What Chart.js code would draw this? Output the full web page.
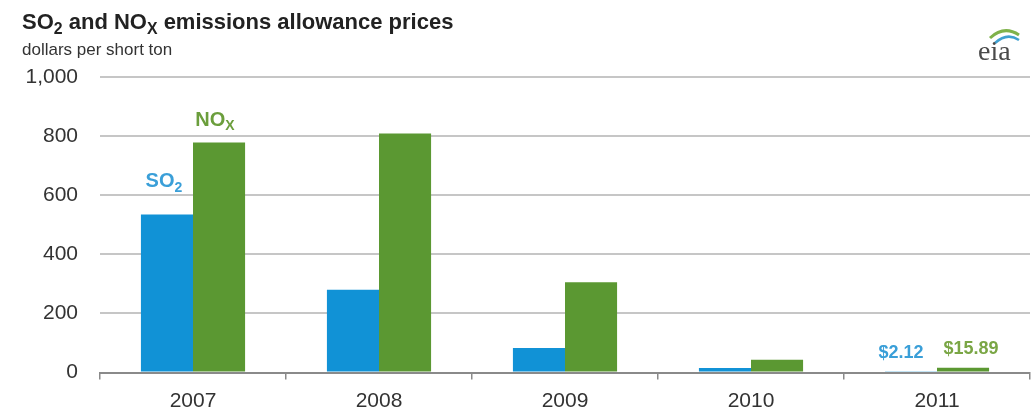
<!DOCTYPE html>
<html><head><meta charset="utf-8">
<script src="https://cdn.jsdelivr.net/npm/chart.js@4.4.1/dist/chart.umd.min.js"></script>
<style>
html,body{margin:0;padding:0;background:#fff;}
#wrap{position:relative;width:1035px;height:414px;overflow:hidden;}
#title{position:absolute;left:22px;top:9px;font:bold 22px "Liberation Sans",Arial,sans-serif;color:#222;white-space:nowrap;}
#sub{position:absolute;left:22px;top:40px;font:17px "Liberation Sans",Arial,sans-serif;color:#333;white-space:nowrap;}
sub{font-size:72%;vertical-align:-0.3em;line-height:0;}
#logo{position:absolute;left:968px;top:14px;}
canvas{position:absolute;left:0;top:0;}
</style></head>
<body><div id="wrap">
<canvas id="c" width="1035" height="414"></canvas>
<div id="title">SO<sub>2</sub> and NO<sub>X</sub> emissions allowance prices</div>
<div id="sub">dollars per short ton</div>
<svg id="logo" width="64" height="52" viewBox="0 0 64 52">
  <path d="M22 24 Q36 11 51 21" stroke="#7fb24a" stroke-width="3" fill="none"/>
  <path d="M27 29 Q39 18 51 26" stroke="#3fa0d0" stroke-width="2.5" fill="none"/>
  <text x="10" y="46" font-family="Liberation Serif, DejaVu Serif, serif" font-size="28" fill="#4a4a4a">eia</text>
</svg>
</div>
<script>
const years = ['2007', '2008', '2009', '2010', '2011'];
const so2Prices = [535, 280, 83, 15, 2.12];
const noxPrices = [778, 809, 305, 43, 15.89];
const yTickValues = [0, 200, 400, 600, 800, 1000];
const valueLabels2011 = ['$2.12', '$15.89'];

const BLUE = '#1192d6';
const GREEN = '#5b9832';
const FONT = '"Liberation Sans", Arial, sans-serif';

const labelPlugin = {
  id: 'labels',
  afterDatasetsDraw(chart) {
    const ctx = chart.ctx;
    const b0 = chart.getDatasetMeta(0).data[0];
    const b1 = chart.getDatasetMeta(1).data[0];
    ctx.save();
    ctx.textBaseline = 'alphabetic';
    function sub(main, s, cx, base, color, size) {
      ctx.fillStyle = color;
      const big = 'bold ' + size + 'px ' + FONT;
      const small = 'bold ' + Math.round(size * 0.7) + 'px ' + FONT;
      ctx.font = big;
      const w1 = ctx.measureText(main).width;
      ctx.font = small;
      const w2 = ctx.measureText(s).width;
      const x0 = cx - (w1 + w2) / 2;
      ctx.textAlign = 'left';
      ctx.font = big;
      ctx.fillText(main, x0, base);
      ctx.font = small;
      ctx.fillText(s, x0 + w1, base + size * 0.22);
    }
    sub('SO', '2', b0.x - 3, b0.y - 27, '#3a9fd8', 20);
    sub('NO', 'X', b1.x - 4, b1.y - 17, '#6b9e3c', 20);
    const c0 = chart.getDatasetMeta(0).data[4];
    const c1 = chart.getDatasetMeta(1).data[4];
    ctx.font = 'bold 18px ' + FONT;
    ctx.textAlign = 'center';
    ctx.fillStyle = '#3a9fd8';
    ctx.fillText(valueLabels2011[0], c0.x - 10, c0.y - 14);
    ctx.fillStyle = '#7aa645';
    ctx.fillText(valueLabels2011[1], c1.x + 8, c1.y - 14);
    ctx.restore();
  }
};

new Chart(document.getElementById('c'), {
  type: 'bar',
  data: {
    labels: years,
    datasets: [
      { label: 'SO2', data: so2Prices, backgroundColor: BLUE, borderWidth: 0 },
      { label: 'NOx', data: noxPrices, backgroundColor: GREEN, borderWidth: 0 }
    ]
  },
  options: {
    responsive: false,
    animation: false,
    devicePixelRatio: 1,
    layout: { padding: { top: 77, right: 5, left: 0, bottom: 0 } },
    categoryPercentage: 0.56,
    barPercentage: 1,
    plugins: { legend: { display: false }, tooltip: { enabled: false }, title: { display: false } },
    scales: {
      x: {
        grid: { drawOnChartArea: false, drawTicks: true, tickLength: 7, color: '#8a8a8a', lineWidth: 1.5, offset: true },
        border: { display: true, color: '#8a8a8a', width: 2 },
        ticks: { color: '#333', padding: 9, font: { family: FONT, size: 21 } },
        afterFit(s) { s.height = 41.5; }
      },
      y: {
        min: 0, max: 1000,
        afterBuildTicks(s) { s.ticks = yTickValues.map(v => ({ value: v })); },
        grid: { drawTicks: false, color: '#c6c6c6', lineWidth: 2 },
        border: { display: false },
        ticks: {
          color: '#333', padding: 22,
          font: { family: FONT, size: 21 },
          callback: v => v.toLocaleString('en-US')
        },
        afterFit(s) { s.width = 100; }
      }
    }
  },
  plugins: [labelPlugin]
});
</script>
</body></html>
